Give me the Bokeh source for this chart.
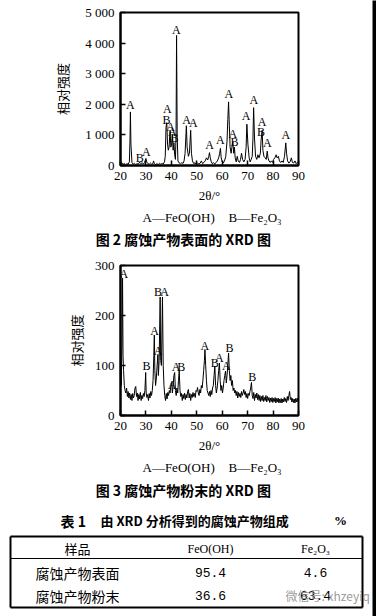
from bokeh.plotting import figure
from bokeh.layouts import column, row
from bokeh.models import Range1d, FixedTicker
from bokeh.core.properties import value
from bokeh.embed import file_html
from bokeh.resources import INLINE

# ---------------- data: Fig.2 (surface) ----------------
surf_x = [20.0, 20.5, 21.0, 21.5, 22.0, 22.5, 23.0, 23.5, 23.75, 23.9, 24.1, 24.5, 25.0, 25.5, 26.0,
          26.5, 27.0, 27.5, 28.0, 28.5, 29.0, 29.5, 30.0, 30.3, 30.8, 31.3, 31.8, 32.3, 32.8, 33.0,
          33.3, 33.8, 34.3, 34.8, 35.3, 35.8, 36.3, 36.8, 37.3, 37.6, 37.9, 38.2, 38.5, 38.8, 39.1,
          39.5, 39.8, 40.1, 40.4, 40.7, 41.0, 41.3, 41.6, 41.85, 42.05, 42.3, 42.6, 43.1, 43.6, 44.1,
          44.6, 45.0, 45.4, 45.9, 46.2, 46.7, 47.1, 47.6, 47.9, 48.3, 48.8, 49.3, 49.8, 50.3, 50.8,
          51.3, 51.8, 52.3, 52.8, 53.3, 53.8, 54.3, 54.7, 55.0, 55.3, 55.7, 56.1, 56.6, 57.1, 57.6,
          58.1, 58.6, 59.0, 59.3, 59.6, 60.0, 60.4, 60.9, 61.4, 61.9, 62.2, 62.5, 62.8, 63.1, 63.5,
          63.9, 64.2, 64.5, 64.8, 65.1, 65.5, 65.9, 66.3, 66.8, 67.2, 67.6, 68.0, 68.5, 69.0, 69.4,
          69.7, 70.1, 70.6, 71.0, 71.4, 71.8, 72.1, 72.35, 72.7, 73.1, 73.6, 74.0, 74.5, 75.0, 75.3,
          75.7, 76.0, 76.4, 76.9, 77.3, 77.7, 78.0, 78.4, 78.9, 79.3, 79.8, 80.2, 80.7, 81.2, 81.6,
          82.1, 82.5, 83.0, 83.5, 84.0, 84.5, 85.0, 85.3, 85.7, 86.2, 86.7, 87.2, 87.6, 88.1, 88.6,
          89.1, 89.5, 90.0]
surf_y = [40, 90, 30, 70, 20, 60, 40, 120, 900, 1750, 700, 100, 40, 70, 30,
          60, 40, 110, 60, 90, 50, 100, 230, 120, 60, 40, 80, 40, 70, 150,
          60, 30, 60, 30, 70, 40, 60, 50, 120, 300, 1250, 1400, 700, 500, 600,
          1150, 600, 700, 1000, 500, 750, 350, 200, 1000, 4250, 900, 150, 80, 60, 90,
          70, 150, 400, 1300, 600, 300, 400, 1150, 400, 150, 60, 90, 40, 80, 50,
          70, 150, 60, 100, 150, 250, 180, 300, 420, 250, 120, 60, 90, 50, 100,
          150, 250, 400, 560, 250, 120, 80, 150, 300, 800, 1500, 2080, 1300, 600, 400,
          650, 780, 400, 600, 250, 120, 300, 150, 100, 200, 400, 200, 120, 200, 600,
          1350, 700, 250, 120, 200, 300, 900, 1890, 900, 300, 200, 350, 250, 400, 830,
          1150, 500, 300, 250, 200, 470, 250, 150, 100, 150, 100, 200, 250, 350, 250,
          300, 150, 100, 150, 100, 300, 740, 400, 150, 80, 120, 250, 100, 80, 150,
          60, 100, 60]
surf_lab_x = [23.9, 27.6, 30.2, 38.4, 38.1, 39.7, 40.4, 41.2, 42.0, 46.0, 48.6,
              55.0, 59.3, 62.6, 64.2, 64.8, 69.4, 72.4, 75.7, 75.3, 77.7, 85.0]
surf_lab_y = [1993, 250, 436, 1853, 1503, 1252, 1111, 905, 4412, 1493, 1395,
              676, 817, 2343, 1036, 763, 1611, 2147, 1415, 1088, 729, 1003]
surf_lab_t = ["A", "B", "A", "A", "B", "A", "A", "B", "A", "A", "A",
              "A", "A", "A", "A", "B", "A", "A", "A", "B", "A", "A"]
surf_y_ticks = [0, 1000, 2000, 3000, 4000, 5000]
surf_y_tick_labels = ["0", "1 000", "2 000", "3 000", "4 000", "5 000"]

# ---------------- data: Fig.3 (powder) ----------------
pow_x = [20.0, 20.3, 20.6, 20.8, 21.0, 21.2, 21.5, 21.8, 22.1, 22.4, 22.7, 23.0, 23.3, 23.6, 23.9,
         24.2, 24.5, 24.8, 25.1, 25.4, 25.7, 26.0, 26.3, 26.6, 26.9, 27.2, 27.5, 27.8, 28.1, 28.4,
         28.7, 29.0, 29.3, 29.6, 29.9, 30.1, 30.4, 30.7, 31.0, 31.3, 31.6, 31.9, 32.2, 32.5, 32.8,
         33.1, 33.3, 33.5, 33.8, 34.1, 34.4, 34.7, 34.9, 35.2, 35.6, 35.8, 36.1, 36.5, 36.8, 37.1,
         37.4, 37.7, 38.0, 38.3, 38.6, 38.9, 39.2, 39.5, 39.8, 40.1, 40.4, 40.7, 41.0, 41.3, 41.6,
         41.9, 42.2, 42.5, 42.8, 43.1, 43.4, 43.7, 44.0, 44.3, 44.6, 44.9, 45.2, 45.5, 45.8, 46.1,
         46.4, 46.7, 47.0, 47.3, 47.6, 47.9, 48.2, 48.5, 48.8, 49.1, 49.4, 49.7, 50.0, 50.3, 50.6,
         50.9, 51.2, 51.5, 51.8, 52.1, 52.4, 52.7, 53.0, 53.2, 53.5, 53.8, 54.1, 54.4, 54.7, 55.0,
         55.3, 55.6, 55.9, 56.2, 56.5, 56.8, 57.1, 57.4, 57.7, 58.0, 58.3, 58.6, 58.9, 59.2, 59.5,
         59.8, 60.1, 60.4, 60.7, 61.0, 61.3, 61.6, 61.9, 62.2, 62.5, 62.8, 63.1, 63.4, 63.7, 64.0,
         64.3, 64.6, 64.9, 65.2, 65.5, 65.8, 66.1, 66.4, 66.7, 67.0, 67.3, 67.6, 67.9, 68.2, 68.5,
         68.8, 69.1, 69.4, 69.7, 70.0, 70.3, 70.6, 70.9, 71.2, 71.5, 71.8, 72.1, 72.4, 72.7, 73.0,
         73.3, 73.6, 73.9, 74.2, 74.5, 74.8, 75.1, 75.4, 75.7, 76.0, 76.3, 76.6, 76.9, 77.2, 77.5,
         77.8, 78.1, 78.4, 78.7, 79.0, 79.3, 79.6, 79.9, 80.2, 80.5, 80.8, 81.1, 81.4, 81.7, 82.0,
         82.3, 82.6, 82.9, 83.2, 83.5, 83.8, 84.1, 84.4, 84.7, 85.0, 85.3, 85.6, 85.9, 86.2, 86.5,
         86.8, 87.1, 87.4, 87.7, 88.0, 88.3, 88.6, 88.9, 89.2, 89.5, 89.8, 90.0]
pow_y = [100, 60, 150, 275, 120, 90, 60, 50, 45, 55, 38, 48, 35, 45, 32,
         42, 30, 44, 35, 40, 55, 58, 38, 45, 30, 42, 33, 46, 30, 40,
         34, 44, 38, 50, 86, 45, 36, 42, 30, 44, 35, 48, 40, 50, 70,
         120, 161, 90, 60, 75, 100, 122, 80, 110, 237, 110, 100, 237, 100, 60,
         40, 30, 44, 33, 46, 40, 50, 45, 60, 66, 45, 60, 80, 86, 50,
         40, 55, 45, 70, 89, 50, 38, 44, 30, 42, 34, 45, 32, 42, 35,
         48, 52, 35, 44, 30, 42, 36, 46, 38, 44, 36, 50, 48, 56, 45,
         40, 52, 45, 60, 55, 70, 90, 110, 132, 100, 70, 50, 45, 40, 48,
         38, 50, 42, 55, 60, 80, 99, 60, 45, 55, 70, 90, 105, 70, 50,
         60, 45, 55, 70, 80, 89, 65, 80, 100, 125, 90, 70, 80, 60, 70,
         50, 55, 45, 50, 40, 48, 35, 46, 38, 44, 36, 48, 40, 45, 52,
         42, 48, 36, 44, 34, 44, 40, 48, 55, 66, 40, 34, 46, 30, 42,
         35, 45, 32, 42, 30, 40, 28, 38, 30, 40, 28, 36, 30, 40, 27,
         38, 30, 36, 26, 35, 28, 36, 26, 34, 28, 36, 25, 34, 27, 35,
         25, 33, 26, 34, 25, 33, 27, 36, 28, 34, 26, 38, 30, 40, 48,
         32, 36, 27, 34, 26, 33, 25, 34, 27, 35, 28, 32]
pow_lab_x = [21.3, 30.2, 33.4, 34.8, 34.7, 37.3, 40.3, 41.9, 43.9, 53.2,
             57.1, 58.9, 61.6, 62.9, 71.8]
pow_lab_y = [284, 100, 169, 130, 248, 248, 61, 97, 98, 140,
             105, 116, 100, 136, 78]
pow_lab_t = ["A", "B", "A", "A", "B", "A", "A", "A", "B", "A",
             "B", "A", "A", "B", "B"]
pow_y_ticks = [0, 100, 200, 300]
pow_y_tick_labels = ["0", "100", "200", "300"]

x_ticks = [20, 30, 40, 50, 60, 70, 80, 90]

# ---------------- texts ----------------
legend_a = "A—FeO(OH)"
legend_b = "B—Fe₂O₃"
caption2 = "图 2   腐蚀产物表面的 XRD 图"
caption3 = "图 3   腐蚀产物粉末的 XRD 图"
table_no = "表 1"
table_title = "由 XRD 分析得到的腐蚀产物组成"
table_unit = "%"
table_header = ["样品", "FeO(OH)", "Fe₂O₃"]
table_samples = ["腐蚀产物表面", "腐蚀产物粉末"]
table_feooh = [95.4, 36.6]
table_fe2o3 = [4.6, 63.4]
watermark = "微信号: xhzeyiq"

SERIF = value("Liberation Serif")
CJK = value("Noto Sans CJK SC")
MONO = value("Liberation Mono")
W = 372


def no_align(p):
    try:
        p.frame_align = False
    except Exception:
        pass


def xrd_fig(h, top, bottom, xs, ys, ymax, yticks, ylabels, lx, ly, lt, ystand, xstand):
    p = figure(width=W, height=h, x_range=Range1d(20, 90), y_range=Range1d(0, ymax),
               output_backend="svg", toolbar_location=None,
               min_border_left=120, min_border_right=W - 298,
               min_border_top=top, min_border_bottom=bottom)
    no_align(p)
    p.line(xs, ys, line_color="black", line_width=1)
    p.text(x=lx, y=ly, text=lt, text_font=SERIF, text_font_size="12px",
           text_align="center", text_baseline="middle", text_color="black")
    p.xgrid.visible = False
    p.ygrid.visible = False
    p.outline_line_color = "black"
    p.outline_line_width = 2
    p.outline_line_alpha = 1
    p.xaxis.ticker = FixedTicker(ticks=x_ticks)
    p.yaxis.ticker = FixedTicker(ticks=yticks)
    p.yaxis.major_label_overrides = {t: l for t, l in zip(yticks, ylabels)}
    for ax in (p.xaxis[0], p.yaxis[0]):
        ax.axis_line_width = 2
        ax.axis_line_color = "black"
        ax.major_tick_in = 5
        ax.major_tick_out = 0
        ax.major_tick_line_width = 1.5
        ax.minor_tick_line_color = None
        ax.major_label_text_font = "Liberation Serif"
        ax.major_label_text_font_size = "13px"
        ax.major_label_text_color = "black"
        ax.axis_label_text_font_style = "normal"
        ax.axis_label_text_font_size = "13px"
        ax.axis_label_text_color = "black"
    p.xaxis.major_label_standoff = 6
    p.yaxis.major_label_standoff = 6
    p.xaxis.axis_label = "2θ/°"
    p.xaxis.axis_label_text_font = "Liberation Serif"
    p.xaxis.axis_label_standoff = xstand
    p.yaxis.axis_label = "相对强度"
    p.yaxis.axis_label_text_font = "Noto Sans CJK SC"
    p.yaxis.axis_label_standoff = ystand
    return p


def blank(h):
    p = figure(width=W, height=h, x_range=Range1d(0, W), y_range=Range1d(h, 0),
               output_backend="svg", toolbar_location=None, min_border=0,
               min_border_left=0, min_border_right=0, min_border_top=0, min_border_bottom=0,
               x_axis_location=None, y_axis_location=None)
    no_align(p)
    p.grid.visible = False
    p.outline_line_color = None
    return p


def legend(p, y):
    p.text(x=[142], y=[y], text=[legend_a], text_font=SERIF, text_font_size="13px",
           text_align="left", text_baseline="middle", text_color="black")
    p.text(x=[228], y=[y], text=[legend_b], text_font=SERIF, text_font_size="13px",
           text_align="left", text_baseline="middle", text_color="black")


def caption(p, y, t):
    p.text(x=[186], y=[y], text=[t], text_font=CJK, text_font_size="14px",
           text_font_style="bold", text_align="center", text_baseline="middle",
           text_color="black")


f1 = xrd_fig(205, 12, 40, surf_x, surf_y, 5000, surf_y_ticks, surf_y_tick_labels,
             surf_lab_x, surf_lab_y, surf_lab_t, 10, 5)

c1 = blank(53)
legend(c1, 12)
caption(c1, 33, caption2)

f2 = xrd_fig(197, 7, 38, pow_x, pow_y, 300, pow_y_ticks, pow_y_tick_labels,
             pow_lab_x, pow_lab_y, pow_lab_t, 6, 5)

c2 = blank(161)
legend(c2, 12)
caption(c2, 34, caption3)
c2.text(x=[60], y=[65], text=[table_no], text_font=CJK, text_font_size="14px",
        text_font_style="bold", text_align="left", text_baseline="middle", text_color="black")
c2.text(x=[100], y=[65], text=[table_title], text_font=CJK, text_font_size="13px",
        text_font_style="bold", text_align="left", text_baseline="middle", text_color="black")
c2.text(x=[340], y=[65], text=[table_unit], text_font=SERIF, text_font_size="13px",
        text_font_style="bold", text_align="center", text_baseline="middle", text_color="black")
# table frame
c2.segment(x0=[10, 10, 10, 362], y0=[81, 152, 81, 81], x1=[362, 362, 10, 362],
           y1=[81, 152, 152, 152], line_color="black", line_width=2)
c2.segment(x0=[10], y0=[103], x1=[362], y1=[103], line_color="black", line_width=1)
col_x = [77, 210, 315]
c2.text(x=[col_x[0]], y=[93], text=[table_header[0]], text_font=CJK, text_font_size="13px",
        text_align="center", text_baseline="middle", text_color="black")
c2.text(x=col_x[1:], y=[93, 93], text=table_header[1:], text_font=SERIF, text_font_size="12px",
        text_align="center", text_baseline="middle", text_color="black")
row_y = [117, 140]
c2.text(x=[col_x[0]] * 2, y=row_y, text=table_samples, text_font=CJK, text_font_size="14px",
        text_align="center", text_baseline="middle", text_color="black")
c2.text(x=[col_x[1]] * 2, y=row_y, text=[f"{v:.1f}" for v in table_feooh], text_font=MONO,
        text_font_size="13px", text_align="center", text_baseline="middle", text_color="black")
c2.text(x=[col_x[2]] * 2, y=row_y, text=[f"{v:.1f}" for v in table_fe2o3], text_font=MONO,
        text_font_size="13px", text_align="center", text_baseline="middle", text_color="black")
c2.text(x=[285], y=[140], text=[watermark], text_font=CJK, text_font_size="12px",
        text_align="left", text_baseline="middle", text_color="#888888", text_alpha=0.85)

strip = figure(width=4, height=616, x_range=Range1d(0, 1), y_range=Range1d(0, 1),
               output_backend="svg", toolbar_location=None, min_border=0,
               x_axis_location=None, y_axis_location=None,
               background_fill_color="black", border_fill_color="black")
no_align(strip)
strip.grid.visible = False
strip.outline_line_color = None

layout = row(column(f1, c1, f2, c2, spacing=0), strip, spacing=0)

with open("out.html", "w") as fh:
    fh.write(file_html(layout, INLINE))
